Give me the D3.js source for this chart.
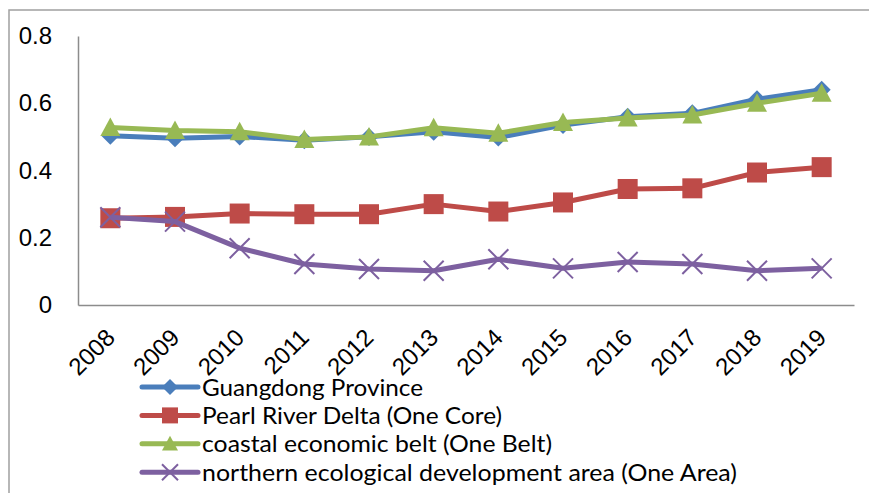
<!DOCTYPE html>
<html>
<head>
<meta charset="utf-8">
<script src="https://cdn.jsdelivr.net/npm/d3@7/dist/d3.min.js"></script>
<style>
  html, body { margin: 0; padding: 0; background: #fff; }
  svg { display: block; font-family: Lato, "Open Sans", sans-serif; }
</style>
</head>
<body>
<svg id="chart" width="869" height="493"></svg>
<script>
// Index values by year for Guangdong and its three sub-regions
const years = ["2008", "2009", "2010", "2011", "2012", "2013", "2014", "2015", "2016", "2017", "2018", "2019"];
const guangdong = [0.503, 0.496, 0.501, 0.490, 0.500, 0.515, 0.498, 0.535, 0.560, 0.570, 0.612, 0.640];
const pearlRiverDelta = [0.258, 0.262, 0.272, 0.270, 0.270, 0.300, 0.278, 0.305, 0.345, 0.347, 0.394, 0.410];
const coastalBelt = [0.528, 0.519, 0.515, 0.492, 0.500, 0.527, 0.511, 0.543, 0.556, 0.565, 0.600, 0.630];
const northernArea = [0.261, 0.248, 0.169, 0.122, 0.107, 0.102, 0.136, 0.109, 0.128, 0.122, 0.102, 0.109];
const yTicks = [0, 0.2, 0.4, 0.6, 0.8];
const seriesNames = [
  "Guangdong Province",
  "Pearl River Delta (One Core)",
  "coastal economic belt (One Belt)",
  "northern ecological development area (One Area)"
];

const series = [
  { name: seriesNames[0], values: guangdong, color: "#4a7ebb", marker: "diamond" },
  { name: seriesNames[1], values: pearlRiverDelta, color: "#be4b48", marker: "square" },
  { name: seriesNames[2], values: coastalBelt, color: "#98b954", marker: "triangle" },
  { name: seriesNames[3], values: northernArea, color: "#7d60a0", marker: "cross" }
];

const svg = d3.select("#chart");

// Chart area frame
svg.append("rect")
  .attr("x", 9).attr("y", 10)
  .attr("width", 900).attr("height", 520)
  .attr("fill", "none")
  .attr("stroke", "#a0a0a0")
  .attr("stroke-width", 1.5);

const plot = { left: 78, right: 854, top: 36, bottom: 305 };

const x = d3.scaleBand().domain(years).range([plot.left, plot.right]);
const cx = d => x(d) + x.bandwidth() / 2;
const y = d3.scaleLinear().domain([0, 0.8]).range([plot.bottom, plot.top]);

// Y axis
const yAxis = svg.append("g")
  .attr("transform", `translate(${plot.left},0)`)
  .call(d3.axisLeft(y).tickValues(yTicks).tickSize(0).tickPadding(26).tickFormat(d => d === 0 ? "0" : d3.format(".1f")(d)));
yAxis.select(".domain").attr("stroke", "#8c8c8c").attr("stroke-width", 1.5);
yAxis.selectAll("text").attr("font-size", 24).attr("fill", "#000");

// X axis
const xAxis = svg.append("g")
  .attr("transform", `translate(0,${plot.bottom})`)
  .call(d3.axisBottom(x).tickSize(0).tickFormat(d => d));
xAxis.select(".domain").attr("stroke", "#8c8c8c").attr("stroke-width", 1.5);
xAxis.selectAll("text")
  .attr("font-size", 24)
  .attr("fill", "#000")
  .attr("text-anchor", "end")
  .attr("dy", 0)
  .attr("y", 0)
  .attr("transform", "translate(6,34) rotate(-45)");

// Marker shapes
function drawMarker(g, type, color, size) {
  const h = size / 2;
  if (type === "diamond") {
    g.append("path").attr("d", `M0,${-h}L${h},0L0,${h}L${-h},0Z`).attr("fill", color);
  } else if (type === "square") {
    g.append("rect").attr("x", -h).attr("y", -h).attr("width", size).attr("height", size).attr("fill", color);
  } else if (type === "triangle") {
    g.append("path").attr("d", `M0,${-h}L${h},${h * 0.85}L${-h},${h * 0.85}Z`).attr("fill", color);
  } else if (type === "cross") {
    g.append("path").attr("d", `M${-h},${-h}L${h},${h}M${-h},${h}L${h},${-h}`)
      .attr("stroke", color).attr("stroke-width", 2).attr("fill", "none");
  }
}

const line = d3.line().x((d, i) => cx(years[i])).y(d => y(d));

series.forEach(s => {
  const g = svg.append("g");
  g.append("path")
    .attr("d", line(s.values))
    .attr("fill", "none")
    .attr("stroke", s.color)
    .attr("stroke-width", 5)
    .attr("stroke-linejoin", "round");
  s.values.forEach((v, i) => {
    const mg = g.append("g").attr("transform", `translate(${cx(years[i])},${y(v)})`);
    drawMarker(mg, s.marker, s.color, s.marker === "diamond" ? 18 : 20);
  });
});

// Legend
const legendTop = 387, legendStep = 28.4;
const legendWidths = [221, 300, 350, 535];
series.forEach((s, i) => {
  const ly = legendTop + i * legendStep;
  const g = svg.append("g");
  g.append("line")
    .attr("x1", 142).attr("x2", 198).attr("y1", ly).attr("y2", ly)
    .attr("stroke", s.color).attr("stroke-width", 5).attr("stroke-linecap", "round");
  const mg = g.append("g").attr("transform", `translate(170,${ly})`);
  drawMarker(mg, s.marker, s.color, 16);
  g.append("text")
    .attr("x", 202).attr("y", ly + 8.5)
    .attr("font-size", 24)
    .attr("fill", "#000")
    .attr("textLength", legendWidths[i])
    .attr("lengthAdjust", "spacingAndGlyphs")
    .text(s.name);
});
</script>
</body>
</html>
